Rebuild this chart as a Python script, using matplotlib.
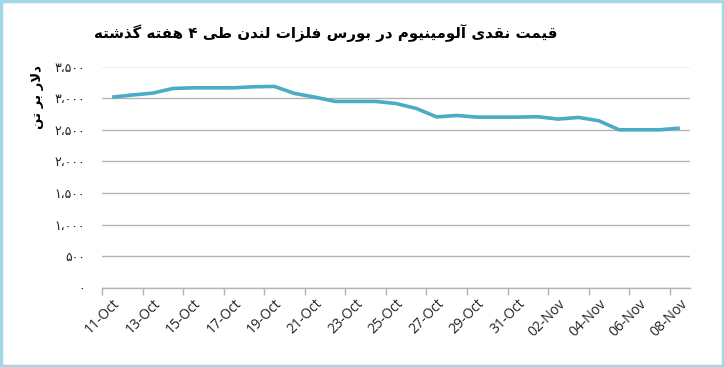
import matplotlib

matplotlib.use("Agg")
import matplotlib.pyplot as plt
from matplotlib.patches import Rectangle

# ---- data ----
DAYS = ["11-Oct", "12-Oct", "13-Oct", "14-Oct", "15-Oct", "16-Oct", "17-Oct",
        "18-Oct", "19-Oct", "20-Oct", "21-Oct", "22-Oct", "23-Oct", "24-Oct",
        "25-Oct", "26-Oct", "27-Oct", "28-Oct", "29-Oct", "30-Oct", "31-Oct",
        "01-Nov", "02-Nov", "03-Nov", "04-Nov", "05-Nov", "06-Nov", "07-Nov",
        "08-Nov"]
PRICE = [3016, 3050, 3079, 3153, 3163, 3163, 3163,
         3180, 3185, 3074, 3016, 2948, 2948, 2948,
         2915, 2837, 2704, 2726, 2700, 2700, 2700,
         2706, 2669, 2695, 2643, 2500, 2500, 2500,
         2527]
YTICKS = [0, 500, 1000, 1500, 2000, 2500, 3000, 3500]
YTICK_LABELS = ["۰", "۵۰۰", "۱،۰۰۰", "۱،۵۰۰", "۲،۰۰۰", "۲،۵۰۰", "۳،۰۰۰", "۳،۵۰۰"]
TITLE = "قیمت نقدی آلومینیوم در بورس فلزات لندن طی ۴ هفته گذشته"
YLABEL = "دلار بر تن"

LINE = "#4bacc6"
GRID = "#b3b3b3"
BORDER = "#a3d7e8"

# ---- minimal Persian shaping (matplotlib has no complex text layout) ----
# char: (isolated, final, initial, medial); 2-tuple = joins only to the right
FORMS = {
    "ا": (0xFE8D, 0xFE8E), "آ": (0xFE81, 0xFE82),
    "ب": (0xFE8F, 0xFE90, 0xFE91, 0xFE92), "ت": (0xFE95, 0xFE96, 0xFE97, 0xFE98),
    "د": (0xFEA9, 0xFEAA), "ذ": (0xFEAB, 0xFEAC), "ر": (0xFEAD, 0xFEAE),
    "ز": (0xFEAF, 0xFEB0), "س": (0xFEB1, 0xFEB2, 0xFEB3, 0xFEB4),
    "ش": (0xFEB5, 0xFEB6, 0xFEB7, 0xFEB8), "ط": (0xFEC1, 0xFEC2, 0xFEC3, 0xFEC4),
    "ف": (0xFED1, 0xFED2, 0xFED3, 0xFED4), "ق": (0xFED5, 0xFED6, 0xFED7, 0xFED8),
    "ل": (0xFEDD, 0xFEDE, 0xFEDF, 0xFEE0), "م": (0xFEE1, 0xFEE2, 0xFEE3, 0xFEE4),
    "ن": (0xFEE5, 0xFEE6, 0xFEE7, 0xFEE8), "ه": (0xFEE9, 0xFEEA, 0xFEEB, 0xFEEC),
    "و": (0xFEED, 0xFEEE), "ی": (0xFBFC, 0xFBFD, 0xFBFE, 0xFBFF),
    "گ": (0xFB92, 0xFB93, 0xFB94, 0xFB95),
}


def shape(text):
    # lam-alef ligature first
    chars = []
    i = 0
    while i < len(text):
        if text[i] == "ل" and i + 1 < len(text) and text[i + 1] == "ا":
            chars.append("LA")
            i += 2
        else:
            chars.append(text[i])
            i += 1

    def dual(c):
        return c in FORMS and len(FORMS[c]) == 4

    def letter(c):
        return c in FORMS or c == "LA"

    out = []
    for k, c in enumerate(chars):
        prev = chars[k - 1] if k > 0 else None
        nxt = chars[k + 1] if k + 1 < len(chars) else None
        join_prev = prev is not None and dual(prev) and letter(c)
        if c == "LA":
            out.append(chr(0xFEFC if join_prev else 0xFEFB))
            continue
        if c not in FORMS:
            out.append(c)
            continue
        f = FORMS[c]
        join_next = len(f) == 4 and nxt is not None and letter(nxt)
        if join_prev and join_next:
            out.append(chr(f[3]))
        elif join_prev:
            out.append(chr(f[1]))
        elif join_next:
            out.append(chr(f[2]))
        else:
            out.append(chr(f[0]))
    return "".join(reversed(out))


fig = plt.figure(figsize=(7.24, 3.67), dpi=100)
fig.patch.set_facecolor("white")
fig.patches.append(Rectangle((0.002, 0.003), 0.996, 0.994, transform=fig.transFigure,
                             fill=False, edgecolor=BORDER, linewidth=2.5))

ax = fig.add_axes([102 / 724, 79 / 367, 588 / 724, 221.5 / 367])
x = list(range(len(DAYS)))
ax.plot(x, PRICE, color=LINE, linewidth=2.6, solid_capstyle="butt", zorder=3)

ax.set_xlim(-0.5, len(DAYS) - 0.5)
ax.set_ylim(0, 3500)
ax.set_yticks(YTICKS)
ax.set_yticklabels(YTICK_LABELS, fontsize=9, color="#222222",
                   family=["DejaVu Sans"])
ax.tick_params(axis="y", length=0, pad=12)
ax.grid(axis="y", color=GRID, linewidth=1.0)
ax.set_axisbelow(True)

for s in ("top", "right", "left"):
    ax.spines[s].set_visible(False)
ax.spines["bottom"].set_color(GRID)
ax.spines["bottom"].set_linewidth(1.0)

# labels every second day on the category centres, tick marks on the boundaries
ax.set_xticks(x[::2])
ax.set_xticklabels(DAYS[::2], rotation=45, ha="right", rotation_mode="anchor",
                   fontsize=10, family="Open Sans", color="#222222")
ax.tick_params(axis="x", which="major", length=0, pad=6)
ax.set_xticks([v - 0.5 for v in x[::2]], minor=True)
ax.tick_params(axis="x", which="minor", length=5, color=GRID, width=1.0)

fig.text(557 / 724, 1 - 33 / 367, shape(TITLE), ha="right", va="center",
         fontsize=10.8, fontweight="bold", family=["DejaVu Sans"])
fig.text(37 / 724, 1 - 97 / 367, shape(YLABEL), ha="center", va="center",
         rotation=90, fontsize=9.5, fontweight="bold", family=["DejaVu Sans"])

fig.savefig("out.png", dpi=100)
